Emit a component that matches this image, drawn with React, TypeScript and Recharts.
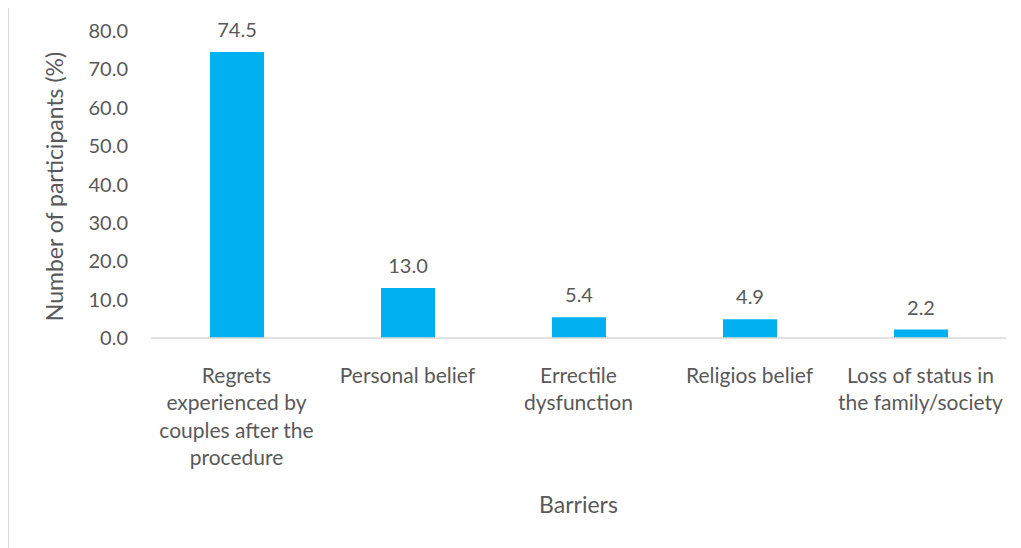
import React from 'react';
import { BarChart, Bar, XAxis, YAxis, LabelList } from 'recharts';

// values
const categories = [
  'Regrets experienced by couples after the procedure',
  'Personal belief',
  'Errectile dysfunction',
  'Religios belief',
  'Loss of status in the family/society',
];
const tickLines = [
  ['Regrets', 'experienced by', 'couples after the', 'procedure'],
  ['Personal belief'],
  ['Errectile', 'dysfunction'],
  ['Religios belief'],
  ['Loss of status in', 'the family/society'],
];
const percents = [74.5, 13.0, 5.4, 4.9, 2.2];
const yTicks = [0, 10, 20, 30, 40, 50, 60, 70, 80];

const data = categories.map((name, i) => ({ name, value: percents[i], lines: tickLines[i] }));

const FONT = 'Lato, "Open Sans", sans-serif';
const TEXT = '#595959';

const CategoryTick = (props: any) => {
  const { x, y, index } = props;
  const lines = tickLines[index] || [];
  return (
    <text x={x} y={y} textAnchor="middle" fill={TEXT} fontSize={21} fontFamily={FONT}>
      {lines.map((l, i) => (
        <tspan key={i} x={x} dy={i === 0 ? '0.71em' : 27.4}>
          {l}
        </tspan>
      ))}
    </text>
  );
};

const YTitle = (props: any) => {
  const { viewBox } = props;
  const cx = viewBox.x + 45;
  const cy = viewBox.y + viewBox.height / 2 + 2;
  return (
    <text
      x={cx}
      y={cy}
      transform={`rotate(-90, ${cx}, ${cy})`}
      textAnchor="middle"
      dominantBaseline="central"
      fill={TEXT}
      fontSize={23}
      fontFamily={FONT}
    >
      Number of participants (%)
    </text>
  );
};

export default function App() {
  return (
    <div
      style={{
        position: 'relative',
        marginTop: -3,
        width: 1020,
        height: 548,
        border: '1px solid #d9d9d9',
        boxSizing: 'border-box',
        background: '#fff',
      }}
    >
      <BarChart
        width={1012}
        height={543}
        data={data}
        margin={{ top: 25, right: 15, left: 0, bottom: 26 }}
      >
        <XAxis
          dataKey="name"
          interval={0}
          height={185}
          axisLine={{ stroke: '#d9d9d9', strokeWidth: 1.5 }}
          tickLine={false}
          tickSize={0}
          tickMargin={30}
          tick={<CategoryTick />}
          label={{
            value: 'Barriers',
            position: 'insideBottom',
            offset: 10,
            fill: TEXT,
            fontSize: 23,
            fontFamily: FONT,
          }}
        />
        <YAxis
          width={142}
          domain={[0, 80]}
          ticks={yTicks}
          axisLine={false}
          tickLine={false}
          tickSize={0}
          tickMargin={23}
          tickFormatter={(v: number) => v.toFixed(1)}
          tick={{ fill: TEXT, fontSize: 20, fontFamily: FONT }}
          label={<YTitle />}
        />
        <Bar dataKey="value" fill="#00B0F0" barSize={54} isAnimationActive={false}>
          <LabelList
            dataKey="value"
            position="top"
            offset={15}
            formatter={(v: any) => Number(v).toFixed(1)}
            fill={TEXT}
            fontSize={20}
            fontFamily={FONT}
          />
        </Bar>
      </BarChart>
    </div>
  );
}
